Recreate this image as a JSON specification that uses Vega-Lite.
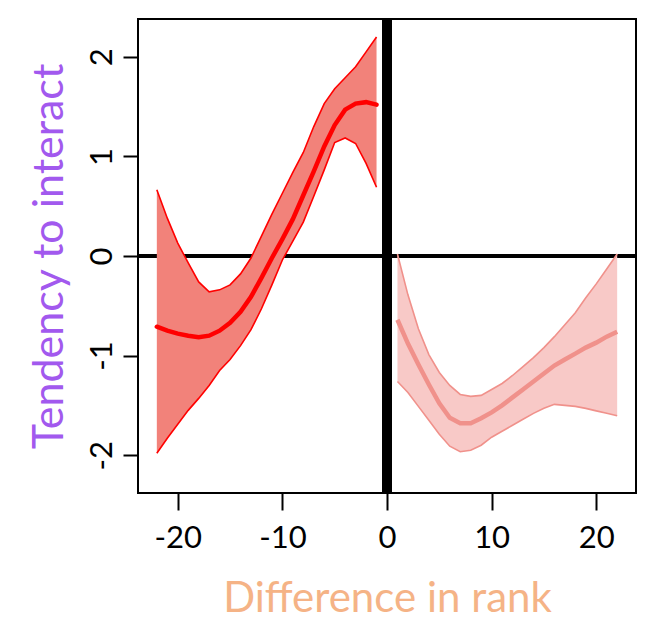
{
  "$schema": "https://vega.github.io/schema/vega-lite/v6.json",
  "autosize": "none",
  "width": 498,
  "height": 474,
  "padding": {"left": 138, "top": 19, "right": 14, "bottom": 128},
  "background": "white",
  "config": {
    "view": {"stroke": "black", "strokeWidth": 2},
    "axis": {
      "grid": false,
      "domain": false,
      "tickColor": "black",
      "tickWidth": 2,
      "labelColor": "black",
      "labelFont": "Lato",
      "labelFontSize": 31,
      "titleFont": "Lato",
      "titleFontSize": 43,
      "titleFontWeight": "normal",
      "labelExpr": "datum.value < 0 ? '-' + abs(datum.value) : '' + datum.value"
    }
  },
  "data": {
    "values": [
      {"side": "L", "x": -22, "lo": -1.98, "mean": -0.71, "hi": 0.665},
      {"side": "L", "x": -21, "lo": -1.83, "mean": -0.75, "hi": 0.38},
      {"side": "L", "x": -20, "lo": -1.69, "mean": -0.78, "hi": 0.13},
      {"side": "L", "x": -19, "lo": -1.55, "mean": -0.8, "hi": -0.07},
      {"side": "L", "x": -18, "lo": -1.43, "mean": -0.815, "hi": -0.26},
      {"side": "L", "x": -17, "lo": -1.3, "mean": -0.8, "hi": -0.36},
      {"side": "L", "x": -16, "lo": -1.15, "mean": -0.75, "hi": -0.34},
      {"side": "L", "x": -15, "lo": -1.04, "mean": -0.67, "hi": -0.29},
      {"side": "L", "x": -14, "lo": -0.9, "mean": -0.56, "hi": -0.18},
      {"side": "L", "x": -13, "lo": -0.74, "mean": -0.41, "hi": -0.02},
      {"side": "L", "x": -12, "lo": -0.53, "mean": -0.22, "hi": 0.2},
      {"side": "L", "x": -11, "lo": -0.29, "mean": -0.02, "hi": 0.42},
      {"side": "L", "x": -10, "lo": -0.04, "mean": 0.17, "hi": 0.63},
      {"side": "L", "x": -9, "lo": 0.15, "mean": 0.37, "hi": 0.84},
      {"side": "L", "x": -8, "lo": 0.34, "mean": 0.61, "hi": 1.04},
      {"side": "L", "x": -7, "lo": 0.6, "mean": 0.85, "hi": 1.3},
      {"side": "L", "x": -6, "lo": 0.865, "mean": 1.1, "hi": 1.53},
      {"side": "L", "x": -5, "lo": 1.14, "mean": 1.315, "hi": 1.68},
      {"side": "L", "x": -4, "lo": 1.185, "mean": 1.47, "hi": 1.79},
      {"side": "L", "x": -3, "lo": 1.13, "mean": 1.53, "hi": 1.9},
      {"side": "L", "x": -2, "lo": 0.93, "mean": 1.545, "hi": 2.05},
      {"side": "L", "x": -1, "lo": 0.69, "mean": 1.52, "hi": 2.2},
      {"side": "R", "x": 1, "lo": -1.26, "mean": -0.64, "hi": 0.02},
      {"side": "R", "x": 2, "lo": -1.37, "mean": -0.88, "hi": -0.39},
      {"side": "R", "x": 3, "lo": -1.51, "mean": -1.09, "hi": -0.73},
      {"side": "R", "x": 4, "lo": -1.65, "mean": -1.29, "hi": -0.99},
      {"side": "R", "x": 5, "lo": -1.79, "mean": -1.48, "hi": -1.17},
      {"side": "R", "x": 6, "lo": -1.91, "mean": -1.625, "hi": -1.3},
      {"side": "R", "x": 7, "lo": -1.965, "mean": -1.68, "hi": -1.39},
      {"side": "R", "x": 8, "lo": -1.95, "mean": -1.68, "hi": -1.41},
      {"side": "R", "x": 9, "lo": -1.9, "mean": -1.63, "hi": -1.4},
      {"side": "R", "x": 10, "lo": -1.82, "mean": -1.57, "hi": -1.34},
      {"side": "R", "x": 11, "lo": -1.76, "mean": -1.5, "hi": -1.28},
      {"side": "R", "x": 12, "lo": -1.7, "mean": -1.42, "hi": -1.2},
      {"side": "R", "x": 13, "lo": -1.64, "mean": -1.34, "hi": -1.11},
      {"side": "R", "x": 14, "lo": -1.58, "mean": -1.26, "hi": -1.02},
      {"side": "R", "x": 15, "lo": -1.53, "mean": -1.18, "hi": -0.92},
      {"side": "R", "x": 16, "lo": -1.49, "mean": -1.1, "hi": -0.81},
      {"side": "R", "x": 17, "lo": -1.5, "mean": -1.04, "hi": -0.69},
      {"side": "R", "x": 18, "lo": -1.51, "mean": -0.98, "hi": -0.57},
      {"side": "R", "x": 19, "lo": -1.53, "mean": -0.92, "hi": -0.42},
      {"side": "R", "x": 20, "lo": -1.555, "mean": -0.87, "hi": -0.28},
      {"side": "R", "x": 21, "lo": -1.58, "mean": -0.81, "hi": -0.13},
      {"side": "R", "x": 22, "lo": -1.605, "mean": -0.76, "hi": 0.02}
    ]
  },
  "layer": [
    {
      "mark": {"type": "rule", "color": "black", "strokeWidth": 4},
      "encoding": {
        "y": {
          "datum": 0,
          "type": "quantitative",
          "scale": {"domain": [-2.38, 2.38], "nice": false, "zero": false},
          "title": "Tendency to interact",
          "axis": {
            "values": [-2, -1, 0, 1, 2],
            "labelAngle": -90,
            "labelAlign": "center",
            "labelBaseline": "alphabetic",
            "labelPadding": 12,
            "tickSize": 15,
            "titleColor": "#A259EE",
            "titleAngle": 270,
            "titleBaseline": "alphabetic",
            "titleX": -76
          }
        }
      }
    },
    {
      "mark": {"type": "rule", "color": "black", "strokeWidth": 9},
      "encoding": {
        "x": {
          "datum": 0,
          "type": "quantitative",
          "scale": {"domain": [-23.8, 23.8], "nice": false, "zero": false},
          "title": "Difference in rank",
          "axis": {
            "values": [-20, -10, 0, 10, 20],
            "labelBaseline": "alphabetic",
            "labelPadding": 37,
            "tickSize": 17,
            "titleColor": "#F5B386",
            "titleBaseline": "alphabetic",
            "titleFontSize": 42,
            "titleY": 118
          }
        }
      }
    },
    {
      "transform": [{"filter": "datum.side === 'L'"}],
      "mark": {"type": "area", "color": "#F2827A", "opacity": 1},
      "encoding": {
        "x": {"field": "x", "type": "quantitative", "title": "Difference in rank"},
        "y": {"field": "lo", "type": "quantitative", "title": "Tendency to interact"},
        "y2": {"field": "hi"}
      }
    },
    {
      "transform": [{"filter": "datum.side === 'L'"}],
      "mark": {"type": "line", "color": "#FF0000", "strokeWidth": 1.6},
      "encoding": {
        "x": {"field": "x", "type": "quantitative", "title": "Difference in rank"},
        "y": {"field": "lo", "type": "quantitative", "title": "Tendency to interact"}
      }
    },
    {
      "transform": [{"filter": "datum.side === 'L'"}],
      "mark": {"type": "line", "color": "#FF0000", "strokeWidth": 1.6},
      "encoding": {
        "x": {"field": "x", "type": "quantitative", "title": "Difference in rank"},
        "y": {"field": "hi", "type": "quantitative", "title": "Tendency to interact"}
      }
    },
    {
      "transform": [{"filter": "datum.side === 'L'"}],
      "mark": {"type": "line", "color": "#FF0000", "strokeWidth": 4.5, "strokeCap": "round"},
      "encoding": {
        "x": {"field": "x", "type": "quantitative", "title": "Difference in rank"},
        "y": {"field": "mean", "type": "quantitative", "title": "Tendency to interact"}
      }
    },
    {
      "transform": [{"filter": "datum.side === 'R'"}],
      "mark": {"type": "area", "color": "#F8C9C7", "opacity": 1},
      "encoding": {
        "x": {"field": "x", "type": "quantitative", "title": "Difference in rank"},
        "y": {"field": "lo", "type": "quantitative", "title": "Tendency to interact"},
        "y2": {"field": "hi"}
      }
    },
    {
      "transform": [{"filter": "datum.side === 'R'"}],
      "mark": {"type": "line", "color": "#F0918B", "strokeWidth": 1.6},
      "encoding": {
        "x": {"field": "x", "type": "quantitative", "title": "Difference in rank"},
        "y": {"field": "lo", "type": "quantitative", "title": "Tendency to interact"}
      }
    },
    {
      "transform": [{"filter": "datum.side === 'R'"}],
      "mark": {"type": "line", "color": "#F0918B", "strokeWidth": 1.6},
      "encoding": {
        "x": {"field": "x", "type": "quantitative", "title": "Difference in rank"},
        "y": {"field": "hi", "type": "quantitative", "title": "Tendency to interact"}
      }
    },
    {
      "transform": [{"filter": "datum.side === 'R'"}],
      "mark": {"type": "line", "color": "#F0918B", "strokeWidth": 4.5},
      "encoding": {
        "x": {"field": "x", "type": "quantitative", "title": "Difference in rank"},
        "y": {"field": "mean", "type": "quantitative", "title": "Tendency to interact"}
      }
    }
  ]
}
